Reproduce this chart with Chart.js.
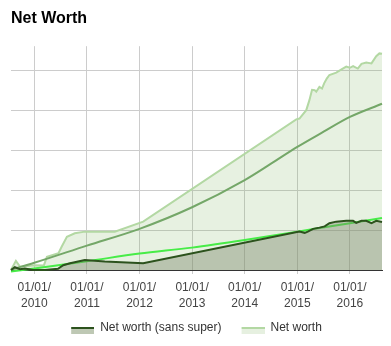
<!DOCTYPE html>
<html>
<head>
<meta charset="utf-8">
<title>Net Worth</title>
<script src="https://cdn.jsdelivr.net/npm/chart.js@4.4.1/dist/chart.umd.min.js"></script>
<style>
  body { margin: 0; background: #fff; }
  canvas { display: block; }
</style>
</head>
<body>
<canvas id="chart" width="391" height="346"></canvas>
<script>
// values in $k, x as decimal year
const yearTicks = [2010, 2011, 2012, 2013, 2014, 2015, 2016];

const nwYears = [2009.557, 2009.65, 2009.73, 2010.01, 2010.18, 2010.24, 2010.46, 2010.52, 2010.62, 2010.77, 2010.96,
  2011.53, 2012.07, 2014.98, 2015.04, 2015.17, 2015.23, 2015.28, 2015.33, 2015.36, 2015.42, 2015.47, 2015.51,
  2015.56, 2015.61, 2015.74, 2015.84, 2015.93, 2016.00, 2016.06, 2016.15, 2016.22, 2016.31, 2016.41, 2016.50,
  2016.56, 2016.61];
const nwValues = [0, 23, 8, 12, 11, 33, 42, 58, 83, 92, 96,
  96, 121, 377, 379, 400, 425, 451, 450, 446, 458, 454, 467,
  479, 488, 494, 502, 509, 506, 510, 504, 516, 519, 517, 535,
  542, 541];

const ssYears = [2009.557, 2009.63, 2009.73, 2009.82, 2009.98, 2010.20, 2010.45, 2010.55, 2010.68, 2010.96, 2011.34,
  2012.07, 2015.04, 2015.14, 2015.20, 2015.30, 2015.42, 2015.52, 2015.61, 2015.74, 2015.93, 2016.06, 2016.12,
  2016.22, 2016.31, 2016.41, 2016.50, 2016.61];
const ssValues = [0, 7, 2, 4, 0, 0, 3, 12, 17, 25, 21,
  17, 96, 93, 96, 103, 106, 109, 117, 121, 123, 123, 118,
  123, 123, 117, 123, 120];

// trend lines
const nwTrendYears = [2009.557, 2010, 2011, 2012, 2013, 2014, 2014.5, 2015, 2015.5, 2016, 2016.61];
const nwTrendValues = [1, 18, 61, 103, 157, 225, 266, 308, 346, 383, 416];
const ssTrendYears = [2009.557, 2010, 2011, 2012, 2013, 2014, 2015, 2016, 2016.61];
const ssTrendValues = [-4, 4, 22, 41, 56, 75, 96, 117, 130];

const FONT = "'Liberation Sans', Arial, sans-serif";

function points(xs, ys) {
  return xs.map((x, i) => ({x: x, y: ys[i]}));
}

// legend swatch: coloured line on top of the area colour, 9px blank on the left as item spacing
function swatch(lineColor, fillColor) {
  const c = document.createElement('canvas');
  c.width = 32;
  c.height = 12;
  const g = c.getContext('2d');
  g.fillStyle = fillColor;
  g.fillRect(9, 7, 23, 5);
  g.fillStyle = lineColor;
  g.fillRect(9, 5, 23, 2);
  return c;
}

const ssLine = '#2c521d';
const nwLine = '#b3d8a3';

new Chart(document.getElementById('chart'), {
  type: 'line',
  data: {
    datasets: [
      {
        label: 'Net worth (sans super)',
        data: points(ssYears, ssValues),
        borderColor: ssLine,
        borderWidth: 2,
        backgroundColor: 'rgba(122,134,104,0.42)',
        fill: 'origin',
        pointRadius: 0,
        tension: 0,
        clip: false
      },
      {
        label: 'sans super trend',
        data: points(ssTrendYears, ssTrendValues),
        borderColor: '#47ec47',
        borderWidth: 2,
        fill: false,
        pointRadius: 0,
        cubicInterpolationMode: 'monotone',
        clip: false
      },
      {
        label: 'net worth trend',
        data: points(nwTrendYears, nwTrendValues),
        borderColor: '#74a768',
        borderWidth: 2,
        fill: false,
        pointRadius: 0,
        cubicInterpolationMode: 'monotone',
        clip: false
      },
      {
        label: 'Net worth',
        data: points(nwYears, nwValues),
        borderColor: nwLine,
        borderWidth: 2,
        backgroundColor: 'rgba(120,180,90,0.18)',
        fill: 'origin',
        pointRadius: 0,
        tension: 0,
        clip: false
      }
    ]
  },
  options: {
    responsive: false,
    animation: false,
    devicePixelRatio: 1,
    layout: {padding: {left: 2, right: 9, top: 0, bottom: 2}},
    plugins: {
      title: {
        display: true,
        fullSize: false,
        text: 'Net Worth',
        align: 'start',
        color: '#000',
        font: {family: FONT, size: 16, weight: 'bold', lineHeight: 1.2},
        padding: {top: 9, bottom: 18}
      },
      legend: {
        position: 'bottom',
        maxHeight: 33,
        labels: {
          usePointStyle: true,
          pointStyleWidth: 32,
          boxHeight: 12,
          padding: 11,
          color: '#333',
          font: {family: FONT, size: 12},
          generateLabels: () => [
            {text: 'Net worth (sans super)', pointStyle: swatch(ssLine, '#bec8b4'), datasetIndex: 0, fontColor: '#333'},
            {text: 'Net worth', pointStyle: swatch(nwLine, '#e6f0e0'), datasetIndex: 3, fontColor: '#333'}
          ]
        }
      },
      tooltip: {enabled: false}
    },
    scales: {
      x: {
        type: 'linear',
        min: 2009.557,
        max: 2016.61,
        afterBuildTicks: scale => { scale.ticks = yearTicks.map(v => ({value: v})); },
        afterFit: scale => { scale.height = 41; },
        grid: {color: '#cccccc', tickColor: '#cccccc', tickLength: 4, drawTicks: true},
        border: {color: '#333', width: 1},
        ticks: {
          padding: 6,
          color: '#444',
          maxRotation: 0,
          autoSkip: false,
          font: {family: FONT, size: 12, lineHeight: 16 / 12},
          callback: v => ['01/01/', String(v)]
        }
      },
      y: {
        min: 0,
        max: 560,
        afterBuildTicks: scale => { scale.ticks = [0, 100, 200, 300, 400, 500].map(v => ({value: v})); },
        afterFit: scale => { scale.width = 9; },
        grid: {color: '#cccccc', drawTicks: false},
        border: {display: false},
        ticks: {display: false}
      }
    }
  }
});
</script>
</body>
</html>
